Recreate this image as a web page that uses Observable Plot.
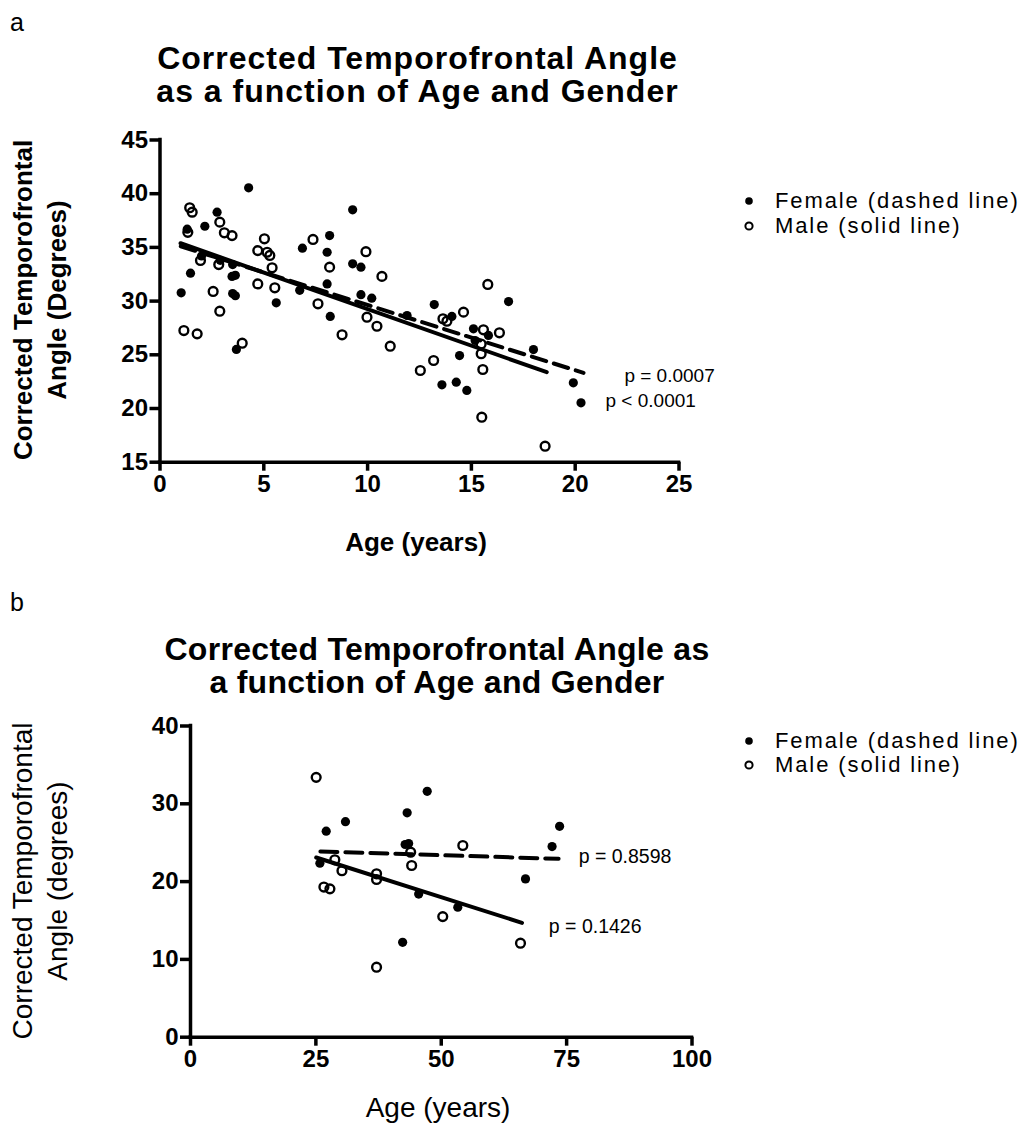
<!DOCTYPE html>
<html>
<head>
<meta charset="utf-8">
<script src="https://cdn.jsdelivr.net/npm/d3@7"></script>
<script src="https://cdn.jsdelivr.net/npm/@observablehq/plot@0.6"></script>
<style>
  html, body { margin: 0; padding: 0; background: #fff; }
  #page { position: relative; width: 1035px; height: 1126px; overflow: hidden; background: #fff;
          font-family: "Liberation Sans", Arial, Helvetica, sans-serif; color: #000; }
  .abs { position: absolute; white-space: nowrap; }
  .panelLetter { font-size: 25px; }
  .title { font-weight: bold; font-size: 32px; line-height: 33px; text-align: center; }
  .ylab { transform: translate(-50%, -50%) rotate(-90deg); text-align: center; line-height: 34px; font-size: 26px; }
  .xlab { transform: translate(-50%, -50%); font-size: 27px; }
  .legend { font-size: 22px; letter-spacing: 1.9px; }
  .legend .row { position: absolute; left: 0; transform: translateY(-50%); display: flex; align-items: center; }
  .legend .row span { display: inline-block; line-height: 20px; height: 20px; }
  .plotwrap svg { overflow: visible; }
</style>
</head>
<body>
<div id="page"></div>
<script>
// ---------------- DATA ----------------
// Panel a: ages 0-25 years
const xTicksA = [0, 5, 10, 15, 20, 25];
const yTicksA = [15, 20, 25, 30, 35, 40, 45];
const femaleAgeA   = [4.27, 9.28, 2.75, 2.16, 1.31, 8.17, 6.86, 8.05, 9.28, 9.68, 1.47, 3.47, 3.63, 1.02, 3.5, 3.63, 5.6, 6.73, 8.05, 8.2, 9.68, 10.2, 3.68, 11.9, 13.21, 16.79, 14.06, 15.1, 15.82, 15.18, 17.99, 14.43, 13.58, 14.27, 14.78, 19.91, 20.28, 2.0, 2.9, 3.5];
const femaleAngleA = [40.55, 38.5, 38.28, 36.97, 36.7, 36.1, 34.93, 34.55, 33.47, 33.16, 32.6, 32.3, 32.4, 30.77, 30.7, 30.5, 29.84, 31.0, 31.6, 28.57, 30.6, 30.27, 25.5, 28.66, 29.68, 29.96, 28.57, 27.42, 26.8, 26.33, 25.49, 24.93, 22.2, 22.45, 21.68, 22.39, 20.53, 34.2, 33.8, 33.4];
const maleAgeA   = [1.43, 1.55, 2.88, 3.1, 3.47, 1.34, 5.03, 7.37, 4.71, 5.16, 5.29, 9.92, 1.95, 2.83, 5.4, 8.17, 10.69, 4.71, 5.53, 2.56, 2.88, 7.61, 9.97, 10.45, 8.77, 11.09, 1.15, 1.79, 3.96, 12.54, 15.79, 14.62, 13.63, 13.82, 15.58, 16.35, 15.47, 15.47, 13.18, 15.55, 15.5, 18.55];
const maleAngleA = [38.69, 38.28, 37.35, 36.36, 36.1, 36.4, 35.8, 35.74, 34.7, 34.55, 34.25, 34.6, 33.78, 33.4, 33.1, 33.16, 32.3, 31.6, 31.24, 30.9, 29.06, 29.75, 28.5, 27.66, 26.86, 25.8, 27.26, 26.95, 26.08, 23.54, 31.55, 28.97, 28.35, 28.13, 27.33, 27.05, 26.0, 25.1, 24.47, 23.63, 19.19, 16.49];
const femaleFitAgeA = [1.0, 20.4];
const femaleFitAngleA = [35.1, 23.32];
const maleFitAgeA = [0.99, 18.63];
const maleFitAngleA = [35.39, 23.38];
const pTextA = ["p = 0.0007", "p < 0.0001"];
const pAgeA = [22.37, 21.46];
const pAngleA = [23.07, 20.74];

// Panel b: ages 0-100 years
const xTicksB = [0, 25, 50, 75, 100];
const yTicksB = [0, 10, 20, 30, 40];
const femaleAgeB   = [27.06, 30.9, 25.8, 43.2, 42.8, 43.5, 42.3, 45.5, 47.2, 73.6, 72.1, 66.8, 53.3];
const femaleAngleB = [26.48, 27.7, 22.37, 28.84, 24.77, 24.9, 12.2, 18.4, 31.6, 27.1, 24.5, 20.35, 16.7];
const maleAgeB   = [25.06, 28.78, 30.2, 26.6, 27.8, 37.1, 37.1, 37.1, 43.9, 44.1, 54.3, 50.3, 65.8];
const maleAngleB = [33.4, 22.8, 21.4, 19.3, 19.07, 21.0, 20.27, 9.0, 23.78, 22.07, 24.64, 15.5, 12.08];
const femaleFitAgeB = [25.9, 73.4];
const femaleFitAngleB = [23.87, 22.93];
const maleFitAgeB = [25.06, 66.1];
const maleFitAngleB = [23.1, 14.7];
const pTextB = ["p = 0.8598", "p = 0.1426"];
const pAgeB = [77.4, 71.45];
const pAngleB = [23.2, 14.23];

const legendLabels = ["Female (dashed line)", "Male (solid line)"];

// --------------- helpers ---------------
const zip = (xs, ys) => xs.map((x, i) => ({x, y: ys[i]}));
const page = document.getElementById("page");
function addDiv(cls, html, style) {
  const d = document.createElement("div");
  d.className = "abs " + cls;
  d.innerHTML = html;
  Object.assign(d.style, style);
  page.appendChild(d);
  return d;
}

function panel(cfg) {
  const fem = zip(cfg.fAge, cfg.fAng);
  const mal = zip(cfg.mAge, cfg.mAng);
  const fFit = zip(cfg.fFitAge, cfg.fFitAng);
  const mFit = zip(cfg.mFitAge, cfg.mFitAng);
  const pl = cfg.pText.map((t, i) => ({t, x: cfg.pAge[i], y: cfg.pAng[i]}));
  const [x0, x1] = cfg.xDomain, [y0, y1] = cfg.yDomain;
  const chart = Plot.plot({
    width: cfg.width, height: cfg.height,
    marginLeft: cfg.ml, marginRight: cfg.mr, marginTop: cfg.mt, marginBottom: cfg.mb,
    x: {domain: cfg.xDomain},
    y: {domain: cfg.yDomain},
    style: {fontFamily: '"Liberation Sans", Arial, sans-serif', fontWeight: "bold", fontSize: "24px", color: "#000", background: "transparent", overflow: "visible"},
    marks: [
      Plot.axisX({ticks: cfg.xTicks, tickSize: 9, tickPadding: 4, strokeWidth: 3.5, label: null, fontSize: 24, fontWeight: "bold"}),
      Plot.axisY({ticks: cfg.yTicks, tickSize: 10, tickPadding: 2, strokeWidth: 3.5, label: null, fontSize: 24, fontWeight: "bold"}),
      Plot.ruleY([y0], {x1: x0, x2: x1, strokeWidth: 3.5, strokeLinecap: "square"}),
      Plot.ruleX([x0], {y1: y0, y2: y1, strokeWidth: 3.5, strokeLinecap: "square"}),
      Plot.line(mFit, {x: "x", y: "y", stroke: "#000", strokeWidth: 4}),
      Plot.line(fFit, {x: "x", y: "y", stroke: "#000", strokeWidth: 4, strokeDasharray: cfg.dash}),
      Plot.dot(fem, {x: "x", y: "y", r: 4.6, fill: "#000", stroke: "none"}),
      Plot.dot(mal, {x: "x", y: "y", r: 4.4, fill: "none", stroke: "#000", strokeWidth: 2.4}),
      Plot.text(pl, {x: "x", y: "y", text: "t", textAnchor: "start", fontSize: cfg.pSize, fontWeight: "normal", fill: "#000"})
    ]
  });
  const wrap = document.createElement("div");
  wrap.className = "abs plotwrap";
  wrap.style.left = cfg.left + "px";
  wrap.style.top = cfg.top + "px";
  wrap.appendChild(chart);
  page.appendChild(wrap);
}

function legend(top, gap) {
  const d = addDiv("legend", "", {left: "742px", top: top + "px"});
  const sym = [
    '<svg width="14" height="14"><circle cx="7" cy="7" r="3.8" fill="#000"/></svg>',
    '<svg width="14" height="14"><circle cx="7" cy="7" r="3.6" fill="none" stroke="#000" stroke-width="2"/></svg>'
  ];
  legendLabels.forEach((lab, i) => {
    const r = document.createElement("div");
    r.className = "row";
    r.style.top = (i * gap) + "px";
    r.innerHTML = sym[i] + '<span style="margin-left:19px">' + lab + '</span>';
    d.appendChild(r);
  });
}

// --------------- Panel a ---------------
addDiv("panelLetter", "a", {left: "10px", top: "8px"});
addDiv("title", "Corrected Temporofrontal Angle<br>as a function of Age and Gender", {left: "0px", width: "835px", top: "42px", letterSpacing: "1px"});
panel({
  left: 0, top: 0, width: 720, height: 570,
  ml: 159.5, mr: 41.5, mt: 139.5, mb: 108.3,
  xDomain: [0, 25], yDomain: [15, 45], xTicks: xTicksA, yTicks: yTicksA,
  fAge: femaleAgeA, fAng: femaleAngleA, mAge: maleAgeA, mAng: maleAngleA,
  fFitAge: femaleFitAgeA, fFitAng: femaleFitAngleA, mFitAge: maleFitAgeA, mFitAng: maleFitAngleA,
  pText: pTextA, pAge: pAgeA, pAng: pAngleA, pSize: 19, dash: "15,8"
});
addDiv("ylab", "Corrected Temporofrontal<br>Angle (Degrees)", {left: "40px", top: "300px", fontWeight: "bold"});
addDiv("xlab", "Age (years)", {left: "416px", top: "542px", fontWeight: "bold", fontSize: "26px"});
legend(201, 25);

// --------------- Panel b ---------------
addDiv("panelLetter", "b", {left: "10px", top: "588px"});
addDiv("title", "Corrected Temporofrontal Angle as<br>a function of Age and Gender", {left: "0px", width: "874px", top: "633px", letterSpacing: "0.3px"});
panel({
  left: 0, top: 600, width: 740, height: 526,
  ml: 190, mr: 48.5, mt: 125.5, mb: 89.3,
  xDomain: [0, 100], yDomain: [0, 40], xTicks: xTicksB, yTicks: yTicksB,
  fAge: femaleAgeB, fAng: femaleAngleB, mAge: maleAgeB, mAng: maleAngleB,
  fFitAge: femaleFitAgeB, fFitAng: femaleFitAngleB, mFitAge: maleFitAgeB, mFitAng: maleFitAngleB,
  pText: pTextB, pAge: pAgeB, pAng: pAngleB, pSize: 19.5, dash: "17,8"
});
addDiv("ylab", "Corrected Temporofrontal<br>Angle (degrees)", {left: "40px", top: "881px", fontSize: "28px", lineHeight: "35px"});
addDiv("xlab", "Age (years)", {left: "438px", top: "1108px", fontSize: "28px"});
legend(741, 24);
</script>
</body>
</html>
